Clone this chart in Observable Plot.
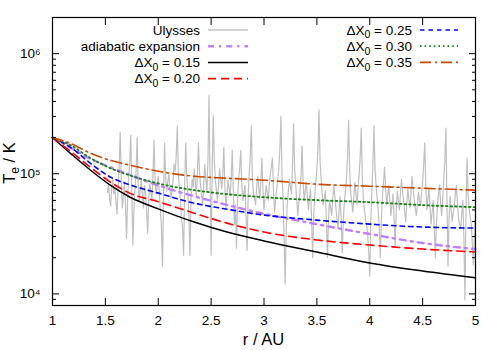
<!DOCTYPE html>
<html><head><meta charset="utf-8">
<script src="https://cdn.jsdelivr.net/npm/d3@7"></script>
<script src="https://cdn.jsdelivr.net/npm/@observablehq/plot@0.6"></script>
<style>
body{margin:0;background:#fff;}
#wrap{position:relative;width:500px;height:350px;font-family:"Liberation Sans",Arial,Helvetica,sans-serif;}
</style></head><body><div id="wrap"></div>
<script>
// ---- Ulysses electron temperature ----
const ulyssesR = [
1.52,1.53,1.54,1.55,1.56,1.57,1.58,1.59,1.60,1.61,
1.62,1.63,1.64,1.65,1.66,1.67,1.68,1.69,1.70,1.71,
1.72,1.73,1.74,1.75,1.76,1.77,1.78,1.79,1.80,1.81,
1.82,1.83,1.84,1.85,1.86,1.87,1.88,1.89,1.90,1.91,
1.92,1.93,1.94,1.95,1.96,1.97,1.98,1.99,2.00,2.01,
2.02,2.03,2.04,2.05,2.06,2.07,2.08,2.09,2.10,2.11,
2.12,2.13,2.14,2.15,2.16,2.17,2.18,2.19,2.20,2.21,
2.22,2.23,2.24,2.25,2.26,2.27,2.28,2.29,2.30,2.31,
2.32,2.33,2.34,2.35,2.36,2.37,2.38,2.39,2.40,2.41,
2.42,2.43,2.44,2.45,2.46,2.47,2.48,2.49,2.50,2.51,
2.52,2.53,2.54,2.55,2.56,2.57,2.58,2.59,2.60,2.61,
2.62,2.63,2.64,2.65,2.66,2.67,2.68,2.69,2.70,2.71,
2.72,2.73,2.74,2.75,2.76,2.77,2.78,2.79,2.80,2.81,
2.82,2.83,2.84,2.85,2.86,2.87,2.88,2.89,2.90,2.91,
2.92,2.93,2.94,2.95,2.96,2.97,2.98,2.99,3.00,3.01,
3.02,3.03,3.04,3.05,3.06,3.07,3.08,3.09,3.10,3.11,
3.12,3.13,3.14,3.15,3.16,3.17,3.18,3.19,3.20,3.21,
3.22,3.23,3.24,3.25,3.26,3.27,3.28,3.29,3.30,3.31,
3.32,3.33,3.34,3.35,3.36,3.37,3.38,3.39,3.40,3.41,
3.42,3.43,3.44,3.45,3.46,3.47,3.48,3.49,3.50,3.51,
3.52,3.53,3.54,3.55,3.56,3.57,3.58,3.59,3.60,3.61,
3.62,3.63,3.64,3.65,3.66,3.67,3.68,3.69,3.70,3.71,
3.72,3.73,3.74,3.75,3.76,3.77,3.78,3.79,3.80,3.81,
3.82,3.83,3.84,3.85,3.86,3.87,3.88,3.89,3.90,3.91,
3.92,3.93,3.94,3.95,3.96,3.97,3.98,3.99,4.00,4.01,
4.02,4.03,4.04,4.05,4.06,4.07,4.08,4.09,4.10,4.11,
4.12,4.13,4.14,4.15,4.16,4.17,4.18,4.19,4.20,4.21,
4.22,4.23,4.24,4.25,4.26,4.27,4.28,4.29,4.30,4.31,
4.32,4.33,4.34,4.35,4.36,4.37,4.38,4.39,4.40,4.41,
4.42,4.43,4.44,4.45,4.46,4.47,4.48,4.49,4.50,4.51,
4.52,4.53,4.54,4.55,4.56,4.57,4.58,4.59,4.60,4.61,
4.62,4.63,4.64,4.65,4.66,4.67,4.68,4.69,4.70,4.71,
4.72,4.73,4.74,4.75,4.76,4.77,4.78,4.79,4.80,4.81,
4.82,4.83,4.84,4.85,4.86,4.87,4.88,4.89,4.90,4.91,
4.92,4.93,4.94,4.95,4.96,4.97,4.98,4.99,5.00];
const ulyssesT = [
7.0e4,8.2e4,6.2e4,5.4e4,7.8e4,9.0e4,6.8e4,7.6e4,5.9e4,4.6e4,
7.4e4,1.1e5,2.2e5,9.0e4,5.2e4,6.4e4,8.5e4,5.6e4,2.9e4,6.0e4,
9.5e4,1.2e5,2.1e5,7.0e4,2.55e4,5.0e4,7.5e4,1.0e5,2.0e5,8.5e4,
6.0e4,7.2e4,9.0e4,6.6e4,5.2e4,8.0e4,7.0e4,4.8e4,3.2e4,6.2e4,
8.2e4,7.0e4,6.0e4,9.8e4,1.9e5,8.8e4,6.8e4,7.8e4,9.5e4,7.0e4,
5.0e4,3.6e4,1.7e4,6.5e4,1.8e5,9.2e4,7.2e4,8.5e4,1.0e5,7.6e4,
6.2e4,7.4e4,8.8e4,1.2e5,1.05e5,1.4e5,2.5e5,1.0e5,7.5e4,6.0e4,
4.2e4,3.5e4,2.1e4,8.0e4,1.8e5,9.5e4,6.8e4,4.5e4,2.1e4,6.0e4,
9.0e4,7.8e4,1.1e5,8.6e4,6.5e4,1.0e5,1.8e5,1.05e5,8.0e4,6.6e4,
5.5e4,8.2e4,1.2e5,9.0e4,7.0e4,1.3e5,4.5e5,9.0e4,2.1e4,1.1e5,
3.1e5,1.3e5,9.0e4,7.2e4,6.0e4,8.0e4,1.1e5,9.0e4,7.5e4,9.8e4,
1.65e5,8.0e4,5.2e4,6.8e4,8.8e4,7.6e4,6.5e4,9.5e4,1.57e5,7.0e4,
3.8e4,5.5e4,2.4e4,6.2e4,9.0e4,1.1e5,1.57e5,8.0e4,6.0e4,7.0e4,
8.0e4,4.5e4,2.3e4,6.5e4,1.0e5,1.4e5,2.5e5,9.5e4,7.0e4,6.2e4,
5.5e4,7.5e4,9.5e4,7.8e4,6.2e4,8.5e4,1.35e5,7.5e4,5.0e4,6.4e4,
8.0e4,7.0e4,6.0e4,8.2e4,1.0e5,1.15e5,1.35e5,7.0e4,4.8e4,6.0e4,
7.5e4,9.0e4,1.1e5,1.6e5,3.0e5,1.0e5,6.5e4,3.0e4,1.2e4,3.5e4,
5.5e4,7.2e4,9.0e4,7.8e4,6.8e4,1.2e5,2.6e5,1.1e5,8.0e4,6.0e4,
4.5e4,5.8e4,7.0e4,9.5e4,1.7e5,8.5e4,6.0e4,7.2e4,8.5e4,6.5e4,
5.0e4,6.2e4,7.5e4,4.2e4,2.0e4,4.5e4,6.5e4,8.5e4,1.1e5,1.6e5,
3.4e5,1.3e5,9.0e4,6.8e4,5.5e4,6.2e4,7.2e4,4.0e4,2.0e4,4.2e4,
6.0e4,5.2e4,4.5e4,6.2e4,8.0e4,6.5e4,5.2e4,4.2e4,3.5e4,5.0e4,
6.5e4,4.0e4,2.2e4,4.2e4,5.8e4,7.2e4,9.0e4,1.4e5,2.8e5,1.1e5,
7.0e4,5.8e4,4.8e4,6.5e4,8.5e4,6.8e4,5.5e4,7.5e4,1.0e5,1.4e5,
2.4e5,9.0e4,6.0e4,5.0e4,4.2e4,3.8e4,3.2e4,2.2e4,1.4e4,4.0e4,
7.0e4,1.2e5,2.5e5,1.1e5,8.0e4,6.2e4,5.0e4,3.5e4,2.0e4,4.2e4,
6.5e4,8.5e4,1.13e5,7.5e4,5.5e4,6.6e4,8.0e4,6.0e4,4.5e4,5.5e4,
6.8e4,4.2e4,2.5e4,4.8e4,7.2e4,6.0e4,5.0e4,6.8e4,9.0e4,7.2e4,
6.0e4,4.8e4,4.0e4,5.5e4,7.5e4,6.2e4,5.2e4,7.0e4,9.5e4,7.5e4,
6.2e4,5.2e4,4.5e4,5.6e4,7.0e4,6.0e4,5.5e4,6.8e4,8.5e4,1.2e5,
1.8e5,8.0e4,5.0e4,6.2e4,7.5e4,5.2e4,3.8e4,4.8e4,6.0e4,3.5e4,
2.0e4,3.8e4,5.5e4,6.8e4,8.0e4,5.8e4,4.5e4,6.2e4,9.0e4,1.3e5,
2.4e5,6.0e4,1.7e4,4.2e4,6.5e4,5.0e4,4.0e4,4.8e4,5.5e4,6.8e4,
8.0e4,5.5e4,4.2e4,3.8e4,3.5e4,4.6e4,6.0e4,3.0e4,8.9e3,5.0e4,
1.35e5,7.0e4,5.0e4,4.4e4,3.8e4,2.6e4,1.75e4,3.2e4,4.5e4];

// ---- model curves ----
const modelR     = [1, 1.17, 1.36, 1.55, 1.73, 2.0, 2.34, 2.65, 3.0, 3.5, 4.0, 4.5, 5.0];
const adiabaticT = [2.0e5,1.65e5,1.33e5,1.13e5,9.8e4,8.0e4,6.5e4,5.5e4,4.65e4,3.8e4,3.15e4,2.65e4,2.36e4];
const dx015T     = [2.0e5,1.48e5,1.07e5,8.0e4,6.4e4,5.1e4,3.96e4,3.27e4,2.76e4,2.23e4,1.81e4,1.55e4,1.36e4];
const dx020T     = [2.0e5,1.54e5,1.13e5,8.5e4,6.9e4,5.85e4,4.7e4,3.88e4,3.27e4,2.81e4,2.55e4,2.36e4,2.23e4];
const dx025T     = [2.0e5,1.66e5,1.22e5,9.35e4,8.1e4,6.9e4,5.69e4,5.07e4,4.53e4,4.11e4,3.81e4,3.6e4,3.53e4];
const dx030T     = [2.0e5,1.73e5,1.35e5,1.11e5,9.7e4,8.3e4,7.3e4,6.76e4,6.38e4,6.03e4,5.8e4,5.48e4,5.27e4];
const dx035T     = [2.0e5,1.79e5,1.48e5,1.29e5,1.18e5,1.05e5,9.53e4,9.18e4,8.84e4,8.18e4,7.88e4,7.58e4,7.3e4];

// ---- ticks ----
const xTicks = [1, 1.5, 2, 2.5, 3, 3.5, 4, 4.5, 5];
const yMajor = [1e4, 1e5, 1e6];
const yMinor = [8e3, 9e3, 2e4, 3e4, 4e4, 5e4, 6e4, 7e4, 8e4, 9e4, 2e5, 3e5, 4e5, 5e5, 6e5, 7e5, 8e5, 9e5, 2e6];
const yDomain = [8e3, 2e6];
const xDomain = [1, 5];

// ---- series styling/labels ----
const seriesInfo = [
  {key: "Ulysses", label: "Ulysses", stroke: "#c0c0c0", width: 1.3, dash: null, col: 0},
  {key: "adiabatic", label: "adiabatic expansion", stroke: "#bf80ff", width: 2.4, dash: "6,5,2.2,5", col: 0},
  {key: "0.15", label: "0.15", stroke: "#000000", width: 1.5, dash: null, col: 0},
  {key: "0.20", label: "0.20", stroke: "#ff0000", width: 1.6, dash: "8,5", col: 0},
  {key: "0.25", label: "0.25", stroke: "#0000ff", width: 1.6, dash: "4.5,4", col: 1},
  {key: "0.30", label: "0.30", stroke: "#1a801a", width: 1.8, dash: "1.6,3", col: 1},
  {key: "0.35", label: "0.35", stroke: "#cc4a00", width: 1.6, dash: "11,4,2,4", col: 1}
];
const modelSeries = {adiabatic: adiabaticT, "0.15": dx015T, "0.20": dx020T, "0.25": dx025T, "0.30": dx030T, "0.35": dx035T};

const ulysses = ulyssesR.map((r, i) => ({r, T: ulyssesT[i]}));
const modelMarks = Object.entries(modelSeries).map(([k, arr]) => {
  const s = seriesInfo.find(d => d.key === k);
  return Plot.line(modelR.map((r, i) => ({r, T: arr[i]})), {
    x: "r", y: "T", stroke: s.stroke, strokeWidth: s.width,
    strokeDasharray: s.dash, curve: "monotone-x"
  });
});
const sup = {"4": "\u2074", "5": "\u2075", "6": "\u2076"};

const plot = Plot.plot({
  width: 500, height: 350,
  marginLeft: 52, marginRight: 25, marginTop: 17, marginBottom: 45,
  style: {fontFamily: '"Liberation Sans", Arial, Helvetica, sans-serif', fontSize: "13.5px", background: "#fff", color: "#000"},
  x: {domain: xDomain},
  y: {type: "log", domain: yDomain},
  marks: [
    Plot.line(ulysses, {x: "r", y: "T", stroke: "#c0c0c0", strokeWidth: 1.2}),
    ...modelMarks,
    Plot.frame({stroke: "#000", strokeWidth: 1.2}),
    Plot.axisX({ticks: xTicks, tickSize: 0, tickPadding: 10, tickFormat: d => String(d), label: null, fill: "#000"}),
    Plot.axisY({ticks: yMajor, tickSize: 0, tickPadding: 12, tickFormat: d => "10" + sup[String(Math.round(Math.log10(d)))], label: null, fill: "#000"}),
    Plot.axisX({ticks: xTicks, tickSize: -7, text: null, label: null, stroke: "#000"}),
    Plot.axisX({anchor: "top", ticks: xTicks, tickSize: -7, text: null, label: null, stroke: "#000"}),
    Plot.axisY({ticks: yMajor, tickSize: -7, text: null, label: null, stroke: "#000"}),
    Plot.axisY({anchor: "right", ticks: yMajor, tickSize: -7, text: null, label: null, stroke: "#000"}),
    Plot.axisY({ticks: yMinor, tickSize: -4, text: null, label: null, stroke: "#000"}),
    Plot.axisY({anchor: "right", ticks: yMinor, tickSize: -4, text: null, label: null, stroke: "#000"})
  ]
});
document.getElementById("wrap").appendChild(plot);

// ---- axis titles & legend (inside the svg) ----
const svg = d3.select(plot);
const ff = '"Liberation Sans", Arial, Helvetica, sans-serif';
svg.append("text").attr("x", 263.5).attr("y", 345).attr("text-anchor", "middle")
  .attr("font-family", ff).attr("font-size", 16.5).attr("fill", "#000").text("r / AU");
const yt = svg.append("text").attr("transform", "translate(15,163) rotate(-90)").attr("text-anchor", "middle")
  .attr("font-family", ff).attr("font-size", 16.5).attr("fill", "#000");
yt.append("tspan").text("T");
yt.append("tspan").attr("font-size", 12).attr("dy", 4).text("e");
yt.append("tspan").attr("dy", -4).text(" / K");

const legTextRight = [200, 412];
const legLine = [[208, 248], [420, 458]];
const rowY0 = 30, rowH = 16.2;
const counts = [0, 0];
seriesInfo.forEach(s => {
  const c = s.col, row = counts[c]++;
  const y = rowY0 + row * rowH;
  const t = svg.append("text").attr("x", legTextRight[c]).attr("y", y + 4.8).attr("text-anchor", "end")
    .attr("font-family", ff).attr("font-size", 13.5).attr("fill", "#000");
  if (s.key === "Ulysses" || s.key === "adiabatic") {
    t.text(s.label);
  } else {
    t.append("tspan").text("\u0394X");
    t.append("tspan").attr("font-size", 10.5).attr("dy", 3.5).text("0");
    t.append("tspan").attr("dy", -3.5).text(" = " + s.label);
  }
  svg.append("line").attr("x1", legLine[c][0]).attr("x2", legLine[c][1]).attr("y1", y).attr("y2", y)
    .attr("stroke", s.stroke).attr("stroke-width", s.width).attr("stroke-dasharray", s.dash);
});
</script></body></html>
